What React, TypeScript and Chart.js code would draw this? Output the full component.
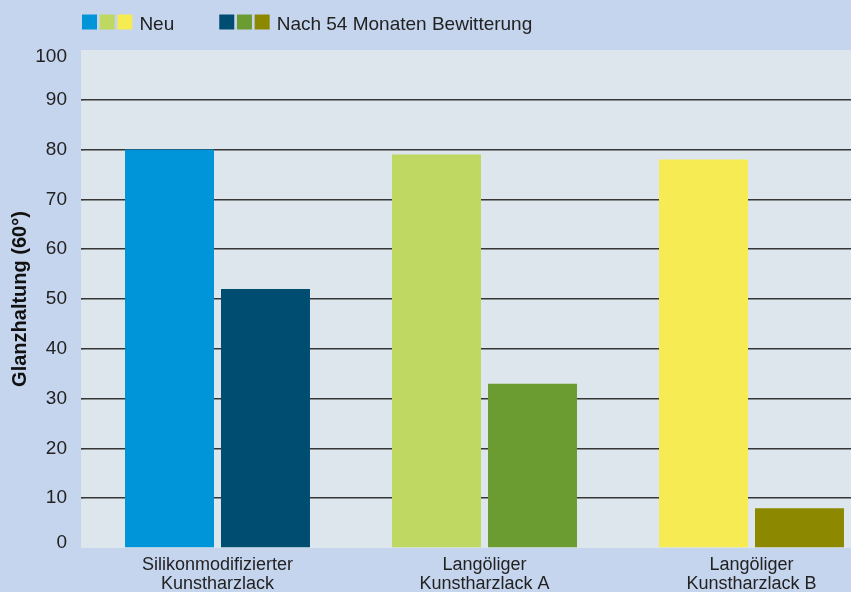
import React, { useEffect, useRef } from 'react';
import { Chart, registerables } from 'chart.js';

Chart.register(...registerables);

const categories = [
  ['Silikonmodifizierter', 'Kunstharzlack'],
  ['Langöliger', 'Kunstharzlack A'],
  ['Langöliger', 'Kunstharzlack B'],
];
const seriesNames = ['Neu', 'Nach 54 Monaten Bewitterung'];
const neuValues = [80, 79, 78];
const weatheredValues = [52, 33, 8];
const neuColors = ['#0094d8', '#bed862', '#f6eb53'];
const weatheredColors = ['#004d72', '#6b9c31', '#8c8800'];
const yMin = 0;
const yMax = 100;
const yStep = 10;
const yTitle = 'Glanzhaltung (60°)';

const FONT = "'Liberation Sans', Arial, sans-serif";
const TEXT = '#222222';

const plotBg = {
  id: 'plotBg',
  beforeDraw(chart: any) {
    const { ctx, chartArea: a } = chart;
    ctx.save();
    ctx.fillStyle = '#dce6ec';
    ctx.fillRect(a.left - 3, a.top, a.right - a.left + 3, a.bottom - a.top);
    ctx.restore();
  },
};

const groupLegend = {
  id: 'groupLegend',
  afterDraw(chart: any) {
    const ctx = chart.ctx;
    ctx.save();
    ctx.font = `19px ${FONT}`;
    ctx.textBaseline = 'alphabetic';
    let x = 82;
    const top = 14.5;
    const size = 15;
    const pitch = 17.7;
    const base = 29.6;
    chart.data.datasets.forEach((ds: any) => {
      const colors = ds.backgroundColor as string[];
      colors.forEach((c, i) => {
        ctx.fillStyle = c;
        ctx.fillRect(x + i * pitch, top, size, size);
      });
      x += (colors.length - 1) * pitch + size + 7;
      ctx.fillStyle = TEXT;
      ctx.fillText(ds.label, x, base);
      x += ctx.measureText(ds.label).width + 45;
    });
    ctx.restore();
  },
};

export default function App() {
  const ref = useRef<HTMLCanvasElement>(null);

  useEffect(() => {
    document.documentElement.style.overflow = 'hidden';
    document.body.style.overflow = 'hidden';
    const canvas = ref.current;
    if (!canvas) return;
    const chart = new Chart(canvas, {
      type: 'bar',
      data: {
        labels: categories as any,
        datasets: [
          {
            label: seriesNames[0],
            data: neuValues,
            backgroundColor: neuColors,
            borderWidth: 0,
            categoryPercentage: 0.719,
            barPercentage: 0.927,
          },
          {
            label: seriesNames[1],
            data: weatheredValues,
            backgroundColor: weatheredColors,
            borderWidth: 0,
            categoryPercentage: 0.719,
            barPercentage: 0.927,
          },
        ],
      },
      options: {
        animation: false,
        responsive: false,
        devicePixelRatio: 1,
        layout: { padding: { top: 50, left: 0, right: 0, bottom: 0 } },
        plugins: {
          legend: { display: false },
          tooltip: { enabled: false },
        },
        scales: {
          x: {
            grid: { display: false },
            border: { display: false },
            ticks: {
              color: TEXT,
              font: { family: FONT, size: 18, lineHeight: '18.4px' } as any,
              padding: 0,
              maxRotation: 0,
              autoSkip: false,
            },
            afterFit(s: any) {
              s.height = 44;
            },
          },
          y: {
            min: yMin,
            max: yMax,
            border: { display: false },
            grid: {
              color: (c: any) =>
                c.tick && (c.tick.value === yMin || c.tick.value === yMax)
                  ? 'rgba(0,0,0,0)'
                  : '#363636',
              lineWidth: 1.6,
              drawTicks: true,
              tickLength: 3,
            },
            ticks: {
              stepSize: yStep,
              padding: 14,
              color: TEXT,
              font: (c: any) => {
                const v = c.tick ? c.tick.value : null;
                return {
                  family: FONT,
                  size: 19,
                  lineHeight: v === yMax ? '13px' : v === yMin ? '10px' : 1.2,
                } as any;
              },
              callback: (v: any) =>
                v === yMax ? ['', String(v)] : v === yMin ? [String(v), ''] : String(v),
            },
            title: {
              display: true,
              text: yTitle,
              color: '#111111',
              font: { family: FONT, size: 20, weight: 'bold' },
              padding: { top: 8, bottom: 0 },
            },
            afterFit(s: any) {
              s.width = 84;
            },
          },
        },
      },
      plugins: [plotBg, groupLegend],
    });
    return () => chart.destroy();
  }, []);

  return (
    <div
      style={{
        position: 'fixed',
        left: 0,
        top: 0,
        width: 885,
        height: 592,
        background: '#c6d5ee',
        overflow: 'hidden',
      }}
    >
      <canvas ref={ref} width={885} height={592} style={{ display: 'block' }} />
    </div>
  );
}
